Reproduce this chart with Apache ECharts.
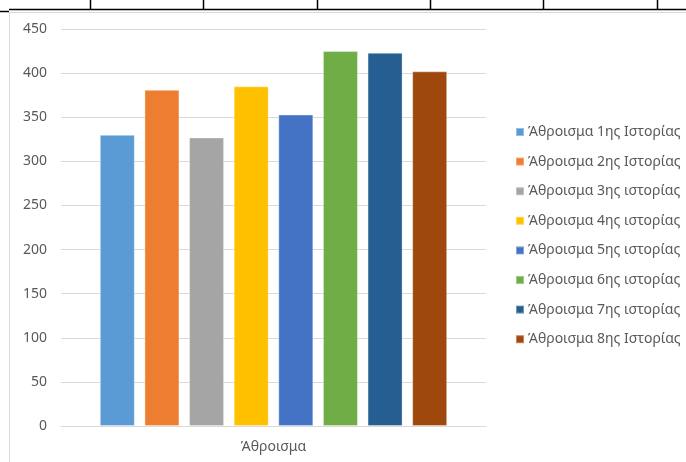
<!DOCTYPE html>
<html>
<head>
<meta charset="utf-8">
<script src="https://cdn.jsdelivr.net/npm/echarts@6/dist/echarts.min.js"></script>
<style>
  html, body { margin: 0; padding: 0; background: #fff; }
  #chart { width: 686px; height: 462px; }
</style>
</head>
<body>
<div id="chart"></div>
<script>
// Totals per story
const categories = ['Άθροισμα'];
const seriesNames = [
  'Άθροισμα 1ης Ιστορίας',
  'Άθροισμα 2ης Ιστορίας',
  'Άθροισμα 3ης ιστορίας',
  'Άθροισμα 4ης ιστορίας',
  'Άθροισμα 5ης ιστορίας',
  'Άθροισμα 6ης ιστορίας',
  'Άθροισμα 7ης ιστορίας',
  'Άθροισμα 8ης Ιστορίας'
];
const totals = [330, 381, 327, 385, 353, 425, 423, 402];
const colors = ['#5B9BD5', '#ED7D31', '#A5A5A5', '#FFC000', '#4472C4', '#70AD47', '#255E91', '#9E480E'];
const yTicks = { min: 0, max: 450, interval: 50 };

const FONT = '"Noto Sans", "Open Sans", sans-serif';
const chart = echarts.init(document.getElementById('chart'), null, { renderer: 'canvas' });

const series = seriesNames.map((name, i) => ({
  name: name,
  type: 'bar',
  data: [totals[i]],
  barWidth: 35,
  barGap: '27.5%',
  itemStyle: { color: colors[i], borderColor: 'rgba(255,255,255,0.35)', borderWidth: 1 }
}));

// Sheet cell borders above the chart frame
const cellLines = [90, 203, 317, 430, 543, 657].map(x => ({
  type: 'line', silent: true,
  shape: { x1: x + 0.5, y1: 0, x2: x + 0.5, y2: 9 },
  style: { stroke: '#000', lineWidth: 1.5 }
}));

chart.setOption({
  animation: false,
  backgroundColor: '#fff',
  color: colors,
  textStyle: { fontFamily: FONT },
  grid: { left: 61, right: 200, top: 29, bottom: 36, containLabel: false },
  xAxis: {
    type: 'category',
    data: categories,
    axisLine: { show: true, lineStyle: { color: '#d9d9d9', width: 1 } },
    axisTick: { show: false },
    axisLabel: { color: '#595959', fontSize: 14, fontFamily: FONT, margin: 14 }
  },
  yAxis: {
    type: 'value',
    min: yTicks.min, max: yTicks.max, interval: yTicks.interval,
    axisLine: { show: false },
    axisTick: { show: false },
    splitLine: { lineStyle: { color: '#d9d9d9', width: 1 } },
    axisLabel: { color: '#595959', fontSize: 14, fontFamily: FONT, margin: 14 }
  },
  legend: {
    orient: 'vertical',
    left: 510,
    top: 120,
    itemWidth: 8,
    itemHeight: 8,
    itemGap: 15.6,
    icon: 'rect',
    textStyle: { color: '#595959', fontSize: 14, fontFamily: FONT, lineHeight: 14, padding: [0, 0, 0, -1] },
    data: seriesNames
  },
  series: series,
  graphic: [
    { type: 'line', silent: true, shape: { x1: 9, y1: 9.5, x2: 686, y2: 9.5 }, style: { stroke: '#000', lineWidth: 1.5 } },
    { type: 'line', silent: true, shape: { x1: 0, y1: 11.5, x2: 9, y2: 11.5 }, style: { stroke: '#000', lineWidth: 1.5 } },
    ...cellLines,
    { type: 'line', silent: true, shape: { x1: 9.5, y1: 12, x2: 9.5, y2: 462 }, style: { stroke: '#d9d9d9', lineWidth: 1 } },
    { type: 'line', silent: true, shape: { x1: 9.5, y1: 12.5, x2: 686, y2: 12.5 }, style: { stroke: '#d9d9d9', lineWidth: 1 } }
  ]
});
</script>
</body>
</html>
